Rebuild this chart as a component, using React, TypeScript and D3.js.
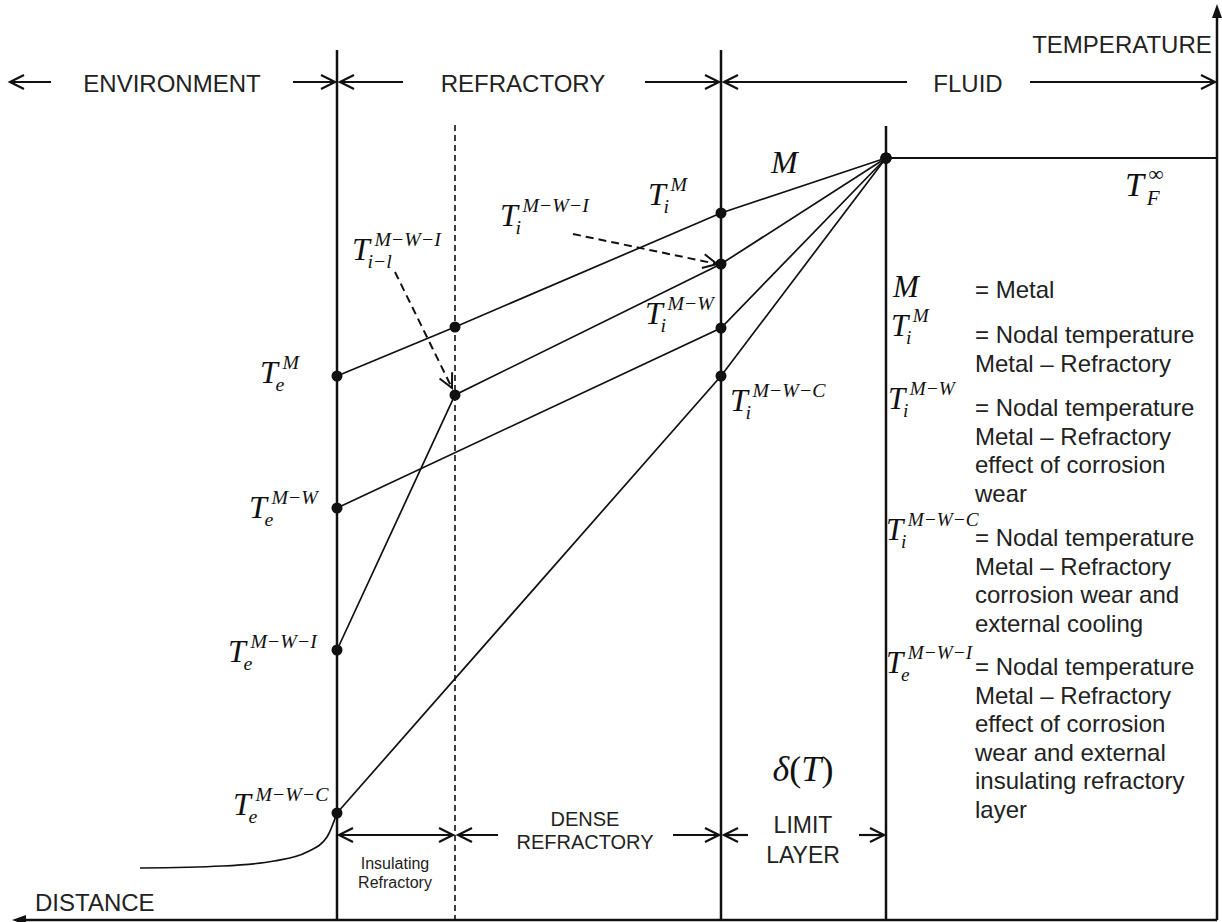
import React from 'react';
import * as d3 from 'd3';

// distance along the wall (left = outside), temperature upward
const layerBounds = [
  { name: 'outer', d: 325 },
  { name: 'insulation', d: 443 },
  { name: 'inner', d: 709 },
  { name: 'limit', d: 874 },
];
const fluidTemp = 762;

// nodal temperatures at outer face, insulation interface, inner face
const profiles = [
  { key: 'M', temps: [544, 593, 707] },
  { key: 'M-W-I', temps: [270, 525, 656] },
  { key: 'M-W', temps: [412, null, 592] },
  { key: 'M-W-C', temps: [107, null, 544] },
];

// external cooling curve in environment
const coolingCurve = [
  [128, 52], [210, 54], [262, 59], [295, 68], [315, 83], [325, 107],
];

const zoneLabels = ['ENVIRONMENT', 'REFRACTORY', 'FLUID'];
const bottomLabels = [['Insulating', 'Refractory'], ['DENSE', 'REFRACTORY'], ['LIMIT', 'LAYER']];

const legendBlocks = [
  { sym: 'M', sub: '', sup: '', lines: ['= Metal'] },
  { sym: 'T', sub: 'i', sup: 'M', lines: ['= Nodal temperature', 'Metal – Refractory'] },
  { sym: 'T', sub: 'i', sup: 'M−W', lines: ['= Nodal temperature', 'Metal – Refractory', 'effect of corrosion', 'wear'] },
  { sym: 'T', sub: 'i', sup: 'M−W−C', lines: ['= Nodal temperature', 'Metal – Refractory', 'corrosion wear and', 'external cooling'] },
  { sym: 'T', sub: 'e', sup: 'M−W−I', lines: ['= Nodal temperature', 'Metal – Refractory', 'effect of corrosion', 'wear and external', 'insulating refractory', 'layer'] },
];

const W = 1222;
const H = 922;
const x = d3.scaleLinear().domain([0, 1205]).range([12, 1217]);
const y = d3.scaleLinear().domain([0, 915]).range([920, 5]);

const SERIF = "'Liberation Serif', 'Times New Roman', serif";
const SANS = "'Liberation Sans', Arial, sans-serif";
const INK = '#111';

const TLabel = ({ x, y, sub, sup, size = 32, sym = 'T', subDx = 0.42 }: any) => {
  const s = size * 0.62;
  return (
    <g fontFamily={SERIF} fontStyle="italic" fill={INK}>
      <text x={x - 2} y={y} fontSize={size}>{sym}</text>
      {sub && <text x={x + size * subDx} y={y + size * 0.26} fontSize={s}>{sub}</text>}
      {sup && <text x={x + size * 0.64} y={y - size * 0.44} fontSize={s}>{sup}</text>}
    </g>
  );
};

const chevron = (px: number, py: number, dir: number, len = 14, hw = 7) =>
  `M${px - dir * len},${py - hw}L${px},${py}L${px - dir * len},${py + hw}`;

const HArrow = ({ x1, x2, y, start, end }: any) => (
  <g stroke={INK} strokeWidth={2.2} fill="none">
    <line x1={x1} x2={x2} y1={y} y2={y} />
    {start && <path d={chevron(x1, y, -1)} />}
    {end && <path d={chevron(x2, y, 1)} />}
  </g>
);

const DashArrow = ({ x1, y1, x2, y2 }: any) => {
  const a = Math.atan2(y2 - y1, x2 - x1);
  const len = 14, hw = 7;
  const bx = x2 - Math.cos(a) * len, by = y2 - Math.sin(a) * len;
  const nx = -Math.sin(a) * hw, ny = Math.cos(a) * hw;
  return (
    <g stroke={INK} strokeWidth={2} fill="none">
      <line x1={x1} y1={y1} x2={x2} y2={y2} strokeDasharray="8,5" />
      <path d={`M${bx + nx},${by + ny}L${x2},${y2}L${bx - nx},${by - ny}`} />
    </g>
  );
};

export default function App() {
  const [outer, ins, inner, limit] = layerBounds.map((b) => x(b.d));
  const apex: [number, number] = [limit, y(fluidTemp)];
  const bx = [layerBounds[0].d, layerBounds[1].d, layerBounds[2].d];

  const line = d3.line<[number, number]>().x((d) => d[0]).y((d) => d[1]);
  const curve = d3
    .line<number[]>()
    .x((d) => x(d[0]))
    .y((d) => y(d[1]))
    .curve(d3.curveMonotoneX);

  const profilePts = profiles.map((p) => {
    const pts: [number, number][] = [];
    p.temps.forEach((t, i) => {
      if (t != null) pts.push([x(bx[i]), y(t)]);
    });
    pts.push(apex);
    return pts;
  });

  const axisY = y(0);
  const axisX = x(1205);
  const topY = 82;
  const botY = 835;

  return (
    <svg width={W} height={H} style={{ position: 'absolute', left: 0, top: 0, background: '#fff' }}>
      {/* axes */}
      <g stroke={INK} strokeWidth={2.5}>
        <line x1={20} x2={axisX} y1={axisY} y2={axisY} />
        <line x1={axisX} x2={axisX} y1={14} y2={axisY} />
      </g>
      <path d={`M12,${axisY}L26,${axisY - 5}L26,${axisY + 5}Z`} fill={INK} />
      <path d={`M${axisX},4L${axisX - 5},18L${axisX + 5},18Z`} fill={INK} />

      {/* layer boundaries */}
      <g stroke={INK} strokeWidth={2.5}>
        <line x1={outer} x2={outer} y1={50} y2={axisY} />
        <line x1={inner} x2={inner} y1={50} y2={axisY} />
        <line x1={limit} x2={limit} y1={126} y2={axisY} />
      </g>
      <line x1={ins} x2={ins} y1={125} y2={axisY} stroke={INK} strokeWidth={1.6} strokeDasharray="6,4" />

      {/* fluid temperature */}
      <line x1={limit} x2={axisX} y1={apex[1]} y2={apex[1]} stroke={INK} strokeWidth={2} />

      {/* temperature profiles */}
      <g fill="none" stroke={INK} strokeWidth={1.7}>
        {profilePts.map((pts, i) => (
          <path key={i} d={line(pts) || ''} />
        ))}
        <path d={curve(coolingCurve) || ''} />
      </g>
      <g fill={INK}>
        {profilePts.flat().map((p, i) => (
          <circle key={i} cx={p[0]} cy={p[1]} r={5.5} />
        ))}
      </g>

      {/* top zone arrows */}
      <HArrow x1={10} x2={51} y={topY} start />
      <HArrow x1={293} x2={outer - 2} y={topY} end />
      <HArrow x1={outer + 3} x2={403} y={topY} start />
      <HArrow x1={645} x2={inner - 2} y={topY} end />
      <HArrow x1={inner + 3} x2={907} y={topY} start />
      <HArrow x1={1030} x2={axisX - 2} y={topY} end />
      <g fontFamily={SANS} fontSize={24} fill="#222" textAnchor="middle">
        <text x={172} y={92}>{zoneLabels[0]}</text>
        <text x={523} y={92}>{zoneLabels[1]}</text>
        <text x={968} y={92}>{zoneLabels[2]}</text>
        <text x={1122} y={53}>TEMPERATURE</text>
        <text x={35} y={911} textAnchor="start">DISTANCE</text>
      </g>

      {/* bottom layer arrows */}
      <HArrow x1={outer + 2} x2={ins - 2} y={botY} start end />
      <HArrow x1={ins + 3} x2={498} y={botY} start />
      <HArrow x1={673} x2={inner - 2} y={botY} end />
      <HArrow x1={inner + 3} x2={748} y={botY} start />
      <HArrow x1={859} x2={limit - 2} y={botY} end />
      <g fontFamily={SANS} fill="#222" textAnchor="middle">
        <text x={395} y={869} fontSize={16}>{bottomLabels[0][0]}</text>
        <text x={395} y={888} fontSize={16}>{bottomLabels[0][1]}</text>
        <text x={585} y={826} fontSize={20}>{bottomLabels[1][0]}</text>
        <text x={585} y={849} fontSize={20}>{bottomLabels[1][1]}</text>
        <text x={803} y={833} fontSize={23}>{bottomLabels[2][0]}</text>
        <text x={803} y={863} fontSize={23}>{bottomLabels[2][1]}</text>
      </g>
      <text x={803} y={781} fontFamily={SERIF} fontSize={36} textAnchor="middle" fill={INK}>
        <tspan fontStyle="italic">δ</tspan>(<tspan fontStyle="italic">T</tspan>)
      </text>

      {/* dashed pointers */}
      <DashArrow x1={395} y1={272} x2={452} y2={388} />
      <DashArrow x1={573} y1={234} x2={717} y2={264} />

      {/* node labels */}
      <TLabel x={262} y={383} sub="e" sup="M" />
      <TLabel x={251} y={518} sub="e" sup="M−W" />
      <TLabel x={230} y={662} sub="e" sup="M−W−I" />
      <TLabel x={235} y={815} sub="e" sup="M−W−C" />
      <TLabel x={354} y={260} sub="i−l" sup="M−W−I" />
      <TLabel x={502} y={226} sub="i" sup="M−W−I" />
      <TLabel x={650} y={205} sub="i" sup="M" />
      <TLabel x={647} y={324} sub="i" sup="M−W" />
      <TLabel x={732} y={411} sub="i" sup="M−W−C" />
      <TLabel x={1127} y={196} sub="F" sup="∞" size={34} subDx={0.58} />
      <TLabel x={773} y={173} sym="M" size={32} />

      {/* legend */}
      {legendBlocks.map((b, i) => {
        const tops = [298, 343, 416, 546, 675];
        const symY = [297, 336, 409, 540, 673];
        const symX = [895, 893, 890, 888, 888];
        return (
          <g key={i}>
            <TLabel x={symX[i]} y={symY[i]} sym={b.sym} sub={b.sub} sup={b.sup} size={31} />
            <g fontFamily={SANS} fontSize={24} fill="#222">
              {b.lines.map((l, j) => (
                <text key={j} x={975} y={tops[i] + j * 28.6}>{l}</text>
              ))}
            </g>
          </g>
        );
      })}
    </svg>
  );
}
